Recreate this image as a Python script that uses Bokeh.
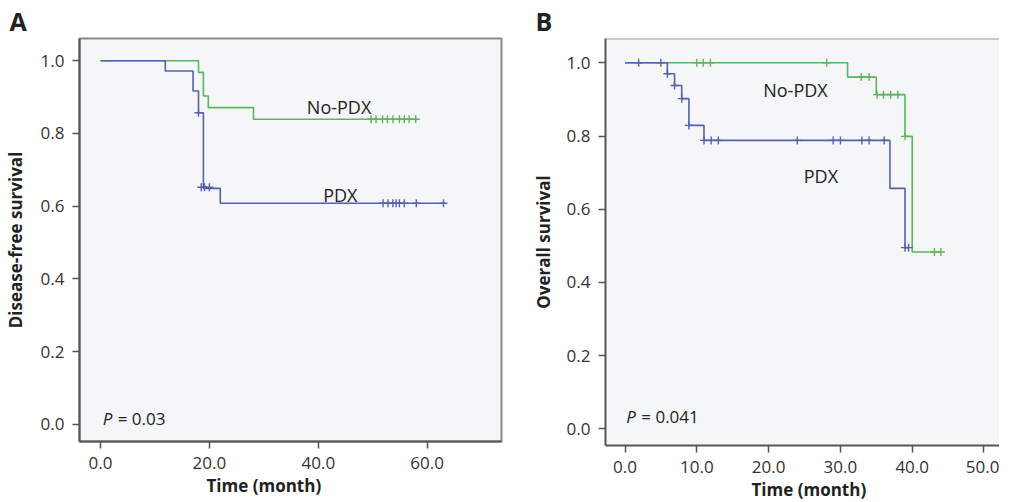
from bokeh.plotting import figure
from bokeh.layouts import row
from bokeh.models import FixedTicker, PrintfTickFormatter, Span, Title
from bokeh.core.properties import value
from bokeh.embed import file_html
from bokeh.resources import INLINE

FONT = "Open Sans"
GREEN = "#5cb65d"
BLUE = "#5560b0"

# ---------------- Panel A: disease-free survival ----------------
a_nopdx_t = [0, 18.0, 18.9, 19.8, 28.1, 58.4]
a_nopdx_s = [1.0, 0.968, 0.903, 0.871, 0.839, 0.839]
a_nopdx_cens_t = [49.7, 50.6, 51.8, 52.7, 53.7, 54.9, 55.8, 56.7, 57.9]
a_nopdx_cens_s = [0.839] * 9

a_pdx_t = [0, 11.9, 17.0, 18.0, 18.9, 22.0, 63.0]
a_pdx_s = [1.0, 0.972, 0.917, 0.857, 0.649, 0.608, 0.608]
a_pdx_cens_t = [18.0, 18.5, 19.1, 20.0, 51.9, 52.8, 53.7, 54.3, 54.9, 55.8, 58.0, 63.0]
a_pdx_cens_s = [0.857, 0.652, 0.652, 0.652, 0.608, 0.608, 0.608, 0.608, 0.608, 0.608, 0.608, 0.608]

a_xticks = [0, 20, 40, 60]

# ---------------- Panel B: overall survival ----------------
b_nopdx_t = [0, 31.0, 35.0, 39.0, 40.0, 44.0]
b_nopdx_s = [1.0, 0.961, 0.913, 0.799, 0.483, 0.483]
b_nopdx_cens_t = [10.0, 10.9, 11.9, 28.1, 32.9, 34.0, 35.1, 36.0, 37.0, 38.0, 39.0, 43.1, 44.0]
b_nopdx_cens_s = [1.0, 1.0, 1.0, 1.0, 0.961, 0.961, 0.913, 0.913, 0.913, 0.913, 0.799, 0.483, 0.483]

b_pdx_t = [0, 5.9, 6.9, 7.9, 8.9, 11.0, 36.9, 39.0, 39.6]
b_pdx_s = [1.0, 0.970, 0.938, 0.902, 0.829, 0.788, 0.657, 0.495, 0.495]
b_pdx_cens_t = [1.9, 5.0, 5.9, 6.9, 7.9, 8.9, 11.0, 12.0, 13.0, 24.0, 29.0, 30.0, 33.0, 34.0, 36.1, 39.0, 39.5]
b_pdx_cens_s = [1.0, 1.0, 0.970, 0.938, 0.902, 0.829, 0.788, 0.788, 0.788, 0.788, 0.788, 0.788,
                0.788, 0.788, 0.788, 0.495, 0.495]

b_xticks = [0, 10, 20, 30, 40, 50]
yticks = [0.0, 0.2, 0.4, 0.6, 0.8, 1.0]


def style(p, xticks, ylabel, ylabel_standoff):
    p.background_fill_color = "#f4f6f8"
    p.border_fill_color = "white"
    p.xgrid.visible = False
    p.ygrid.visible = False
    p.xaxis.ticker = FixedTicker(ticks=xticks)
    p.yaxis.ticker = FixedTicker(ticks=yticks)
    p.xaxis.formatter = PrintfTickFormatter(format="%.1f")
    p.yaxis.formatter = PrintfTickFormatter(format="%.1f")
    for ax in (p.xaxis, p.yaxis):
        ax.axis_line_color = "#555555"
        ax.axis_line_width = 2
        ax.major_tick_line_color = "#555555"
        ax.major_tick_line_width = 1.5
        ax.major_tick_out = 7
        ax.major_tick_in = 0
        ax.minor_tick_line_color = None
        ax.major_label_text_font = FONT
        ax.major_label_text_font_size = "17px"
        ax.major_label_text_color = "#333333"
        ax.major_label_standoff = 8
    p.yaxis.axis_label = ylabel
    p.yaxis.axis_label_text_font = FONT
    p.yaxis.axis_label_text_font_size = "17px"
    p.yaxis.axis_label_text_font_style = "bold"
    p.yaxis.axis_label_text_color = "#222222"
    p.yaxis.axis_label_standoff = ylabel_standoff


def curves(p, t1, s1, ct1, cs1, t2, s2, ct2, cs2):
    p.step(t1, s1, mode="after", line_color=GREEN, line_width=1.6)
    p.scatter(ct1, cs1, marker="cross", size=8, line_color=GREEN, line_width=1.4)
    p.step(t2, s2, mode="after", line_color=BLUE, line_width=1.6)
    p.scatter(ct2, cs2, marker="cross", size=8, line_color=BLUE, line_width=1.4)


def texts(p, xs, ys, labels, size, style_="normal", x_offset=0):
    p.text(x=xs, y=ys, text=labels, text_font=value(FONT), text_font_size=size,
           text_font_style=style_, text_color="#222222", text_align="left",
           text_baseline="alphabetic", x_offset=x_offset)


def titles(p, letter, letter_offset, xlabel_offset):
    p.title = Title(text=letter, align="left", offset=letter_offset, text_font=FONT,
                    text_font_size="25px", text_font_style="bold", text_color="#222222",
                    standoff=2)
    p.add_layout(Title(text="Time (month)", align="left", offset=xlabel_offset, text_font=FONT,
                       text_font_size="17px", text_font_style="bold", text_color="#222222",
                       standoff=0), "below")


# ---------- figure A ----------
pa = figure(frame_width=422, frame_height=403, x_range=(-3.857, 73.65), y_range=(-0.0476, 1.0613),
            min_border_left=72, min_border_right=10, min_border_top=32, min_border_bottom=51,
            output_backend="svg", toolbar_location=None)
style(pa, a_xticks, "Disease-free survival", 11)
pa.outline_line_color = "#8a8a8a"
pa.outline_line_width = 2
curves(pa, a_nopdx_t, a_nopdx_s, a_nopdx_cens_t, a_nopdx_cens_s,
       a_pdx_t, a_pdx_s, a_pdx_cens_t, a_pdx_cens_s)
texts(pa, [37.9, 40.9], [0.874, 0.632], ["No-PDX", "PDX"], "18px")
texts(pa, [0.4], [0.017], ["P"], "17px", "italic")
texts(pa, [0.4], [0.017], ["= 0.03"], "17px", "normal", x_offset=15)
titles(pa, "A", -70, 127)

# ---------- figure B ----------
pb = figure(frame_width=394, frame_height=407, x_range=(-2.716, 52.16), y_range=(-0.0456, 1.0664),
            min_border_left=94, min_border_right=0, min_border_top=32, min_border_bottom=45,
            output_backend="svg", toolbar_location=None)
style(pb, b_xticks, "Overall survival", 9)
pb.outline_line_color = None
pb.add_layout(Span(location=1.0664, dimension="width", line_color="#9a9a9a", line_width=2))
curves(pb, b_nopdx_t, b_nopdx_s, b_nopdx_cens_t, b_nopdx_cens_s,
       b_pdx_t, b_pdx_s, b_pdx_cens_t, b_pdx_cens_s)
texts(pb, [19.25, 24.9], [0.927, 0.690], ["No-PDX", "PDX"], "18px")
texts(pb, [0.18], [0.034], ["P"], "17px", "italic")
texts(pb, [0.18], [0.034], ["= 0.041"], "17px", "normal", x_offset=15)
titles(pb, "B", -70, 146)

layout = row(pa, pb)
open("out.html", "w").write(file_html(layout, INLINE))
